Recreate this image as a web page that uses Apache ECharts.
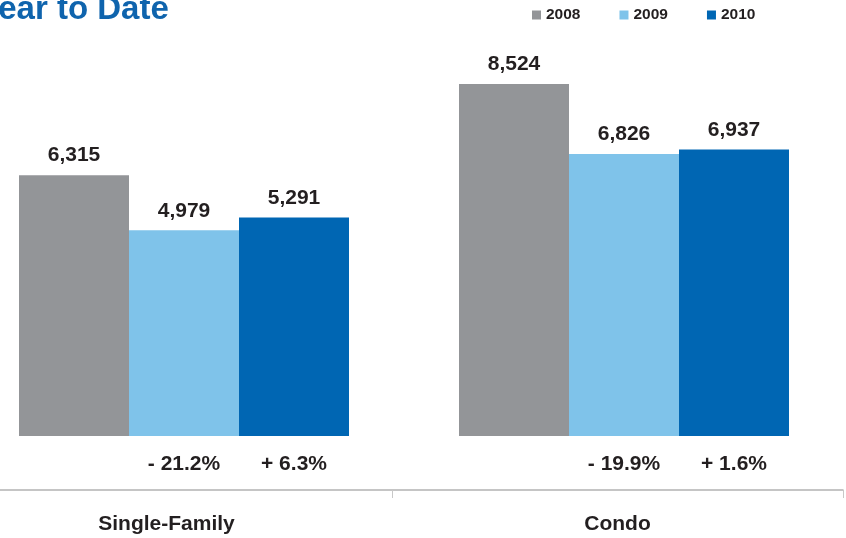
<!DOCTYPE html>
<html>
<head>
<meta charset="utf-8">
<script src="https://cdn.jsdelivr.net/npm/echarts@6/dist/echarts.min.js"></script>
<style>html,body{margin:0;padding:0;background:#fff}#c{width:846px;height:538px}</style>
</head>
<body>
<div id="c"></div>
<script>
var categories = ['Single-Family', 'Condo'];
var years = ['2008', '2009', '2010'];
var values2008 = [6315, 8524];
var values2009 = [4979, 6826];
var values2010 = [5291, 6937];
var pct2009 = ['- 21.2%', '- 19.9%'];
var pct2010 = ['+ 6.3%', '+ 1.6%'];
var colors = ['#939598', '#7fc3ea', '#0066b3'];

var chart = echarts.init(document.getElementById('c'));
var valueLabel = {
  show: true, position: 'top', distance: 9,
  fontFamily: 'Liberation Sans, Arial, sans-serif', fontWeight: 'bold', fontSize: 21, color: '#231f20',
  formatter: function (p) { return p.value.toLocaleString('en-US'); }
};
function pctLabel(arr) {
  return {
    show: true, position: 'bottom', distance: 18,
    fontFamily: 'Liberation Sans Narrow, Liberation Sans, Arial, sans-serif', fontWeight: 'bold', fontSize: 21, color: '#231f20',
    formatter: function (p) { return arr[p.dataIndex]; }
  };
}
var option = {
  animation: false,
  title: {
    text: 'Year to Date', left: -27, top: -12,
    textStyle: { fontFamily: 'Liberation Sans, Arial, sans-serif', fontWeight: 'bold', fontSize: 33, color: '#0f64ad' }
  },
  legend: {
    data: years, left: 527, top: 2, icon: 'rect', itemWidth: 9, itemHeight: 9, itemGap: 39,
    textStyle: { fontFamily: 'Liberation Sans, Arial, sans-serif', fontWeight: 'bold', fontSize: 15.5, color: '#231f20' }
  },
  grid: [
    { left: -36, right: 2, top: 23, bottom: 102, outerBoundsMode: 'none' },
    { left: -59, right: 3, top: 23, bottom: 48, outerBoundsMode: 'none' }
  ],
  xAxis: [
    { type: 'category', gridIndex: 0, data: categories, show: false },
    { type: 'category', gridIndex: 1, data: categories,
      axisLine: { show: true, lineStyle: { color: '#b3b3b3', width: 1.5 } },
      axisTick: { show: true, length: 8, lineStyle: { color: '#c8c8c8' } },
      axisLabel: { margin: 24, fontFamily: 'Liberation Sans Narrow, Liberation Sans, Arial, sans-serif', fontWeight: 'bold', fontSize: 21, color: '#231f20' }
    }
  ],
  yAxis: [
    { type: 'value', gridIndex: 0, min: 0, max: 10000, show: false },
    { type: 'value', gridIndex: 1, min: 0, max: 10000, show: false }
  ],
  series: [
    { name: '2008', type: 'bar', stack: 'a', data: values2008, itemStyle: { color: colors[0] },
      barGap: '0%', barCategoryGap: '25%', label: valueLabel },
    { name: 'p2009', type: 'bar', stack: 'b', data: [0, 0], itemStyle: { color: 'transparent' }, label: pctLabel(pct2009) },
    { name: '2009', type: 'bar', stack: 'b', data: values2009, itemStyle: { color: colors[1] }, label: valueLabel },
    { name: 'p2010', type: 'bar', stack: 'c', data: [0, 0], itemStyle: { color: 'transparent' }, label: pctLabel(pct2010) },
    { name: '2010', type: 'bar', stack: 'c', data: values2010, itemStyle: { color: colors[2] }, label: valueLabel }
  ]
};
chart.setOption(option);
</script>
</body>
</html>
